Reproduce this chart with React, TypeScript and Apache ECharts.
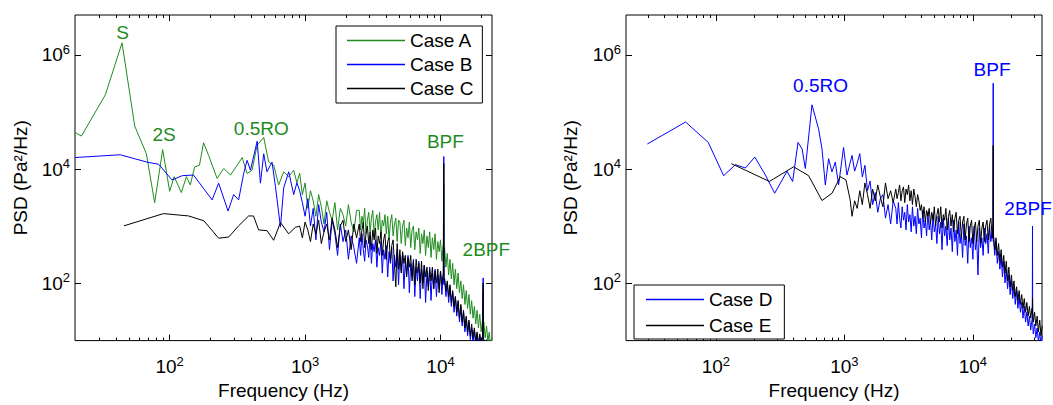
import React, { useEffect, useRef } from "react";
import * as echarts from "echarts";

const FONT = '"Liberation Sans", Arial, Helvetica, sans-serif';
const GREEN = "#1f8c1f";
const BLUE = "#0000ff";
const BLACK = "#000000";

type Pt = [number, number];

// ---------------- Left panel (Cases A, B, C) ----------------
// sparse low-frequency parts: [frequency Hz, PSD Pa^2/Hz]
const caseALow: Pt[] = [
  [20, 4.4e4], [22.3, 3.8e4], [33.5, 2.0e5], [44.5, 1.63e6], [55.2, 5.7e4], [67.3, 1.86e4],
  [77.5, 2.6e3], [88.8, 2.2e4], [100, 4.1e3], [108, 7.4e3], [122, 3.9e3], [133, 7.4e3],
  [142, 5.3e3], [153, 1.1e4], [166, 1.17e4], [178, 2.9e4], [194, 1.74e4], [224, 6.9e3],
  [251, 1.03e4], [281, 7.9e3], [315, 1.17e4], [343, 1.6e4], [373, 8.4e3], [406, 9.6e3],
  [442, 2.6e4], [495, 3.6e4], [539, 1.33e4], [587, 1.17e4], [638, 5.3e3], [695, 9e3],
  [757, 7.4e3], [824, 9.6e3], [870, 5.8e3],
];
const caseBLow: Pt[] = [
  [20, 1.6e4], [43.2, 1.79e4], [68, 1.33e4], [83, 1.22e4], [104, 6.5e3], [124, 7.7e3],
  [150, 7.9e3], [206, 2.9e3], [230, 5.7e3], [270, 1.85e3], [297, 3.6e3], [323, 2.9e3],
  [352, 8.4e3], [373, 1.43e4], [395, 9.6e3], [443, 3.1e4], [468, 5.7e3], [495, 1.86e4],
  [523, 9e3], [570, 1.33e4], [604, 5e3], [658, 970], [695, 4.7e3], [757, 9e3],
  [824, 3.6e3], [870, 5.8e3],
];
const caseCLow: Pt[] = [
  [46, 1020], [90, 1670], [138, 1520], [179, 1250], [230, 620], [273, 650], [323, 1020],
  [383, 1520], [416, 1520], [454, 865], [524, 840], [586, 570], [658, 1170], [756, 740],
  [848, 960],
];
// dense high-frequency part: shared frequency list (Hz), incl. BPF / 2BPF lines
const freqL: number[] = [
  912, 955, 1000, 1047, 1096, 1148, 1202, 1259, 1318, 1380, 1445, 1514, 1585, 1660, 1738,
  1820, 1905, 1995, 2089, 2188, 2291, 2399,
  2512, 2570, 2630, 2692, 2754, 2818, 2884, 2951, 3020, 3090,
  3162, 3236, 3311, 3388, 3467, 3548, 3631, 3715, 3802, 3890,
  3981, 4074, 4169, 4266, 4365, 4467, 4571, 4677, 4786, 4898,
  5012, 5129, 5248, 5370, 5495, 5623, 5754, 5888, 6026, 6166,
  6310, 6457, 6607, 6761, 6918, 7079, 7244, 7413, 7586, 7762,
  7943, 8128, 8318, 8511, 8710, 8913, 9120, 9333, 9550, 9772,
  10000, 10230, 10470,
  10520, 10570, 10620,
  10720, 10960, 11220, 11480, 11750, 12020, 12300, 12590, 12880, 13180,
  13490, 13800, 14130, 14450, 14790, 15140, 15490, 15850, 16220, 16600,
  16980, 17380, 17780, 18200, 18620, 19050, 19500, 19950, 20420,
  20600, 20650, 20700,
  20890, 21380, 21880, 22390, 22910, 23440, 23990,
];
const caseADense: number[] = [
  8500, 3600, 5750, 2060, 4200, 2800, 1500, 3600, 2200, 1100, 2800, 1760, 1280, 2600, 865,
  2060, 1600, 1010, 2400, 1190, 800, 1900,
  1900, 865, 1500, 1100, 2060, 740, 1280, 1760, 800, 1390,
  1900, 680, 1190, 1600, 865, 1760, 630, 1280, 1010, 1600,
  740, 1500, 580, 1190, 1600, 680, 1100, 1390, 540, 1280,
  1190, 500, 1010, 1280, 460, 935, 630, 1190, 425, 865,
  1010, 390, 800, 580, 935, 335, 740, 500, 865, 310,
  680, 425, 800, 285, 630, 390, 740, 265, 540, 360,
  580, 245, 460,
  310, 5300, 265,
  425, 193, 335, 141, 265, 120, 225, 95, 178, 81,
  152, 69, 111, 54.5, 95, 43, 75, 36.7, 64, 29,
  50, 24.7, 39.7, 19.5, 33.9, 16.7, 29, 14.2, 22.9,
  19.5, 69, 16.7,
  21.1, 11.2, 18, 9.6, 14.2, 7.6, 11.2,
];
const caseBDense: number[] = [
  4200, 2600, 1500, 3050, 1010, 2060, 580, 2400, 1190, 800, 1760, 390, 1280, 740, 310,
  1100, 540, 865, 265, 680, 425, 225,
  630, 310, 740, 390, 245, 580, 460, 285, 680, 225,
  500, 360, 580, 193, 425, 310, 540, 152, 390, 265,
  460, 130, 360, 225, 425, 111, 310, 193, 390, 95,
  310, 165, 335, 81, 245, 141, 310, 69, 225, 130,
  265, 59, 193, 111, 245, 54.5, 178, 102, 208, 46.5,
  165, 87.5, 193, 50.4, 152, 81, 178, 59, 141, 81,
  165, 64, 130,
  102, 16700, 95,
  120, 59, 102, 46.5, 87.5, 39.7, 69, 31.3, 59, 26.8,
  46.5, 21.1, 39.7, 18, 31.3, 14.2, 24.7, 12.2, 21.1, 10.4,
  16.7, 8.9, 15.4, 8.2, 13.1, 7.6, 12.2, 7.6, 11.2,
  11.2, 125, 11.2,
  10.4, 7, 9.6, 6.5, 8.9, 6, 7.6,
];
const caseCDense: number[] = [
  1010, 630, 1190, 865, 540, 1100, 740, 1280, 500, 800, 1100, 580, 1390, 865, 425,
  1010, 1280, 540, 865, 390, 1100, 630,
  1100, 540, 865, 1190, 425, 740, 1010, 500, 800, 390,
  865, 580, 935, 335, 680, 500, 800, 310, 580, 740,
  265, 540, 630, 245, 460, 580, 208, 87.5, 500, 178,
  390, 152, 360, 225, 310, 130, 285, 193, 310, 111,
  245, 95, 265, 152, 225, 102, 245, 81, 208, 130,
  193, 75, 178, 111, 193, 81, 165, 102, 178, 69,
  165, 95, 152,
  152, 12700, 125,
  120, 75, 111, 59, 95, 46.5, 75, 39.7, 59, 31.3,
  50.4, 24.7, 43, 21.1, 33.9, 16.7, 26.8, 14.2, 22.9, 12.2,
  19.5, 11.2, 16.7, 9.6, 14.2, 8.9, 13.1, 8.2, 12.2,
  12.2, 102, 11.2,
  11.2, 7.6, 10.4, 7, 9.6, 6.5, 8.2,
];

// ---------------- Right panel (Cases D, E) ----------------
const caseDLow: Pt[] = [
  [29.3, 2.76e4], [58.2, 6.7e4], [87.3, 2.94e4], [115, 7.7e3], [142, 1.2e4], [170, 1.05e4],
  [201, 1.63e4], [243, 7.9e3], [287, 3.8e3], [358, 9.2e3], [396, 6.1e3], [436, 2.94e4],
  [469, 2.26e4], [497, 1.03e4], [560, 1.34e5], [631, 5e4], [670, 2.26e4], [711, 5.3e3],
  [754, 1.53e4], [801, 9e3], [850, 1.33e4], [902, 5.3e3], [986, 2.4e4], [1048, 7.9e3],
  [1112, 1.33e4],
];
const caseELow: Pt[] = [
  [132, 1.25e4], [170, 9.6e3], [261, 6.1e3], [403, 1.1e4], [527, 7.7e3], [670, 2.83e3],
  [802, 3.8e3], [930, 7.4e3], [1029, 6.5e3], [1110, 2.9e3],
];
const freqR: number[] = [
  1148, 1202, 1259, 1318, 1380, 1445, 1514, 1585, 1660, 1738, 1820, 1905, 1995, 2089, 2188,
  2291, 2399,
  2512, 2570, 2630, 2692, 2754, 2818, 2884, 2951, 3020, 3090,
  3162, 3236, 3311, 3388, 3467, 3548, 3631, 3715, 3802, 3890,
  3981, 4074, 4169, 4266, 4365, 4467, 4571, 4677, 4786, 4898,
  5012, 5129, 5248, 5370, 5495, 5623, 5754, 5888, 6026, 6166,
  6310, 6457, 6607, 6761, 6918, 7079, 7244, 7413, 7586, 7762,
  7943, 8128, 8318, 8511, 8710, 8913, 9120, 9333, 9550, 9772,
  10000, 10230, 10470, 10720, 10960, 11220, 11480, 11750, 12020, 12300,
  12590, 12880, 13180, 13490, 13800, 14130,
  14350, 14390, 14420,
  14450, 14790, 15140, 15490, 15850, 16220, 16600, 16980, 17380, 17780,
  18200, 18620, 19050, 19500, 19950, 20420, 20890, 21380, 21880, 22390,
  22910, 23440, 23990, 24550, 25120, 25700, 26300, 26920, 27540, 28180, 28840,
  29000, 29100, 29200,
  29510, 30200, 30900, 31620, 32360, 33110, 33880, 34670,
];
const caseDDense: number[] = [
  17400, 9250, 12700, 18800, 7300, 11700, 4200, 6200, 2400, 3900, 1760, 3050, 3600, 1390, 2400,
  1100, 2800,
  2060, 1100, 2600, 1390, 935, 2200, 1280, 1760, 865, 2400,
  1190, 1600, 800, 2200, 1010, 1500, 740, 2060, 1100, 1390,
  630, 1900, 935, 1280, 680, 1760, 865, 1280, 580, 1600,
  800, 1100, 500, 1500, 740, 1190, 390, 1390, 680, 1010,
  460, 1390, 580, 935, 360, 1280, 540, 865, 310, 1190,
  500, 740, 285, 1100, 460, 680, 225, 1010, 425, 630,
  265, 1010, 390, 580, 141, 935, 425, 630, 310, 935,
  500, 740, 335, 1010, 540, 800,
  605, 320000, 540,
  630, 310, 540, 225, 360, 178, 310, 130, 245, 102,
  178, 81, 141, 64, 111, 54.5, 87.5, 43, 75, 36.7,
  59, 31.3, 46.5, 24.7, 39.7, 21.1, 31.3, 18, 26.8, 15.4, 22.9,
  24.7, 1010, 21.1,
  13.1, 19.5, 11.2, 16.7, 9.6, 14.2, 8.2, 12.2,
];
const caseEDense: number[] = [
  1500, 2800, 2060, 4200, 2400, 5750, 3600, 2060, 4500, 2800, 5300, 3300, 2200, 5750, 3050,
  4200, 2600,
  4500, 3050, 3900, 5300, 2800, 4200, 4900, 2600, 4500, 3600,
  5300, 2800, 4200, 2400, 4500, 3300, 2200, 3600, 2800, 1900,
  2400, 1390, 2200, 1190, 1900, 1500, 2060, 1100, 1760, 1280,
  2200, 1010, 1600, 2060, 1190, 2200, 935, 1600, 1280, 2060,
  865, 1500, 1900, 1010, 1600, 800, 1390, 1760, 740, 1280,
  1500, 630, 1190, 1500, 580, 1100, 1390, 540, 1010, 1280,
  500, 935, 1190, 540, 1010, 1280, 500, 935, 1190, 540,
  1010, 1280, 580, 1100, 1390, 630,
  1190, 26000, 1010,
  740, 390, 630, 310, 500, 245, 390, 193, 310, 152,
  245, 111, 193, 87.5, 141, 75, 111, 59, 87.5, 50.4,
  75, 43, 64, 36.7, 54.5, 31.3, 46.5, 26.8, 39.7, 24.7, 36.7,
  33.9, 54.5, 31.3,
  21.1, 31.3, 18, 26.8, 14.2, 22.9, 12.2, 18,
];

// ---------------- ticks, legends, annotations ----------------
const xMajor = [100, 1000, 10000];
const xMinorL = [30, 40, 50, 60, 70, 80, 90, 200, 300, 400, 500, 600, 700, 800, 900,
  2000, 3000, 4000, 5000, 6000, 7000, 8000, 9000, 20000];
const xMinorR = [...xMinorL, 30000];
const yMajor = [100, 10000, 1000000];
const legendLeft = ["Case A", "Case B", "Case C"];
const legendRight = ["Case D", "Case E"];
const annotationsLeft = [
  { text: "S", f: 45, p: 2.5e6 },
  { text: "2S", f: 91, p: 4.0e4 },
  { text: "0.5RO", f: 475, p: 5.2e4 },
  { text: "BPF", f: 10870, p: 3.0e4 },
  { text: "2BPF", f: 21800, p: 400 },
];
const annotationsRight = [
  { text: "0.5RO", f: 653, p: 2.9e5 },
  { text: "BPF", f: 14100, p: 5.6e5 },
  { text: "2BPF", f: 26900, p: 2070 },
];

function join(low: Pt[], freq: number[], dense: number[]): Pt[] {
  const n = Math.min(freq.length, dense.length);
  const out: Pt[] = low.slice();
  for (let i = 0; i < n; i++) out.push([freq[i], dense[i]]);
  return out;
}

const tickLabel = (v: number) => `{b|10}{s|${Math.round(Math.log10(v))}}`;
const labelRich = {
  b: { fontSize: 19, fontFamily: FONT, color: "#000", lineHeight: 24 },
  s: { fontSize: 13, fontFamily: FONT, color: "#000", verticalAlign: "top", lineHeight: 13 },
};
const nameStyle = { fontSize: 19, fontFamily: FONT, color: "#000" };
const tickLine = { color: "#000", width: 1 };

function xAxes(grid: number, max: number, minor: number[]) {
  const base = {
    gridIndex: grid, type: "log", logBase: 10, min: 20, max,
    splitLine: { show: false }, axisLine: { show: false, onZero: false },
  };
  return [
    {
      ...base, position: "bottom",
      axisTick: { show: true, inside: true, length: 6, customValues: xMajor, lineStyle: tickLine },
      axisLabel: { show: true, customValues: xMajor, formatter: tickLabel, rich: labelRich, margin: 14 },
      name: "Frequency (Hz)", nameLocation: "middle", nameGap: 36, nameTextStyle: nameStyle,
    },
    {
      ...base, position: "bottom",
      axisTick: { show: true, inside: true, length: 3, customValues: minor, lineStyle: tickLine },
      axisLabel: { show: false },
    },
    {
      ...base, position: "top",
      axisTick: { show: true, inside: true, length: 6, customValues: xMajor, lineStyle: tickLine },
      axisLabel: { show: false },
    },
    {
      ...base, position: "top",
      axisTick: { show: true, inside: true, length: 3, customValues: minor, lineStyle: tickLine },
      axisLabel: { show: false },
    },
  ];
}

function yAxes(grid: number, nameGap: number) {
  const base = {
    gridIndex: grid, type: "log", logBase: 10, min: 10, max: 5e6,
    splitLine: { show: false }, axisLine: { show: false, onZero: false },
  };
  return [
    {
      ...base, position: "left",
      axisTick: { show: true, inside: true, length: 6, customValues: yMajor, lineStyle: tickLine },
      axisLabel: { show: true, customValues: yMajor, formatter: tickLabel, rich: labelRich, margin: 5 },
      name: "PSD (Pa²/Hz)", nameLocation: "middle", nameGap, nameTextStyle: nameStyle,
    },
    {
      ...base, position: "right",
      axisTick: { show: true, inside: true, length: 6, customValues: yMajor, lineStyle: tickLine },
      axisLabel: { show: false },
    },
  ];
}

function line(name: string, data: Pt[], color: string, xi: number, yi: number) {
  return {
    name, type: "line", data, xAxisIndex: xi, yAxisIndex: yi,
    showSymbol: false, symbol: "none", clip: true, silent: true,
    lineStyle: { color, width: 1 }, itemStyle: { color },
  };
}

export default function App() {
  const ref = useRef<HTMLDivElement>(null);
  useEffect(() => {
    if (!ref.current) return;
    const chart = echarts.init(ref.current, undefined, { renderer: "svg" });
    const legendBase = {
      orient: "vertical", itemWidth: 58, itemHeight: 1.5, icon: "rect", selectedMode: false,
      borderColor: "#000", borderWidth: 1, backgroundColor: "#fff", borderRadius: 0,
      textStyle: { fontSize: 19, fontFamily: FONT, color: "#000", lineHeight: 19 },
    };
    chart.setOption({
      animation: false,
      backgroundColor: "#fff",
      grid: [
        { left: 75, top: 15, width: 417, height: 335, show: true, borderColor: "#000", borderWidth: 1, backgroundColor: "transparent" },
        { left: 626, top: 15, width: 416, height: 335, show: true, borderColor: "#000", borderWidth: 1, backgroundColor: "transparent" },
      ],
      xAxis: [...xAxes(0, 24000, xMinorL), ...xAxes(1, 34500, xMinorR)],
      yAxis: [...yAxes(0, 45), ...yAxes(1, 46)],
      legend: [
        { ...legendBase, data: legendLeft, left: 336, top: 26, itemGap: 5, padding: [5, 9, 5, 11] },
        { ...legendBase, data: legendRight, left: 634, top: 285, itemGap: 7, padding: [5, 12, 4, 12] },
      ],
      series: [
        line("Case A", join(caseALow, freqL, caseADense), GREEN, 0, 0),
        line("Case B", join(caseBLow, freqL, caseBDense), BLUE, 0, 0),
        line("Case C", join(caseCLow, freqL, caseCDense), BLACK, 0, 0),
        line("Case D", join(caseDLow, freqR, caseDDense), BLUE, 4, 2),
        line("Case E", join(caseELow, freqR, caseEDense), BLACK, 4, 2),
      ],
    });
    const graphics: any[] = [];
    const addText = (list: { text: string; f: number; p: number }[], xi: number, yi: number, color: string) => {
      list.forEach((a) => {
        const pt = chart.convertToPixel({ xAxisIndex: xi, yAxisIndex: yi } as any, [a.f, a.p]) as number[];
        if (!pt) return;
        graphics.push({
          type: "text", x: pt[0], y: pt[1], z: 100,
          style: { text: a.text, fill: color, fontSize: 19, fontFamily: FONT, textAlign: "center", textVerticalAlign: "middle" },
        });
      });
    };
    addText(annotationsLeft, 0, 0, GREEN);
    addText(annotationsRight, 4, 2, BLUE);
    chart.setOption({ graphic: graphics });
    return () => chart.dispose();
  }, []);
  return (
    <div
      ref={ref}
      style={{ position: "absolute", left: 0, top: 0, width: 1053, height: 405, background: "#fff" }}
    />
  );
}
